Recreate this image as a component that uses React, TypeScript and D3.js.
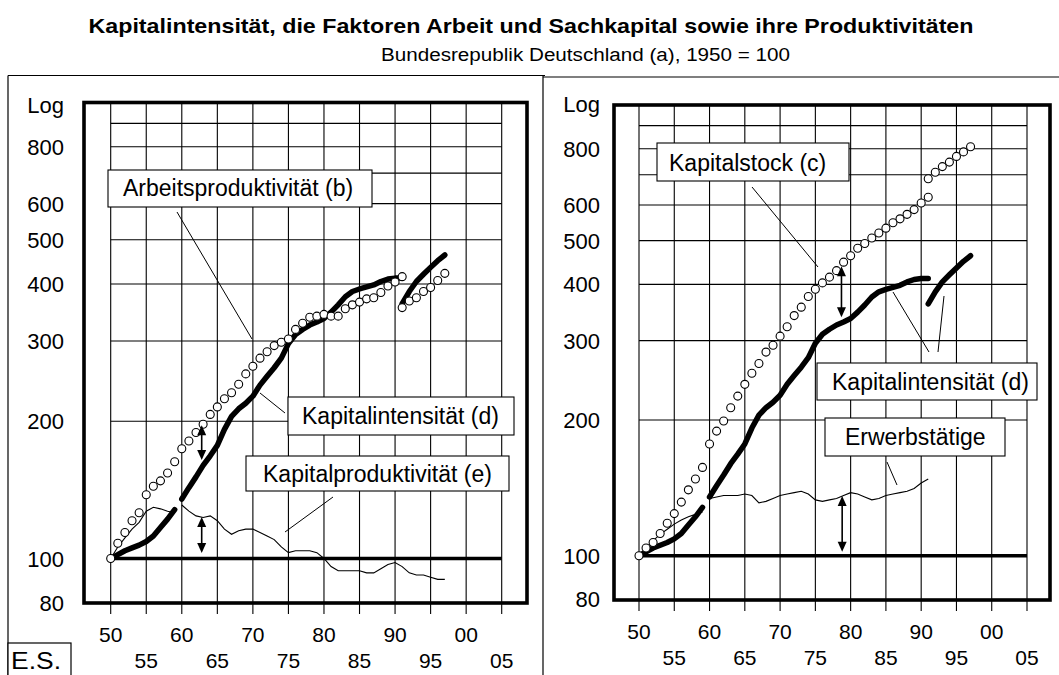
import React from "react";
import * as d3 from "d3";

const FONT = "'Liberation Sans', Arial, Helvetica, sans-serif";

// ---- axis data ----
const yearTicks = [1950, 1955, 1960, 1965, 1970, 1975, 1980, 1985, 1990, 1995, 2000, 2005];
const yearTickLabels = ["50", "55", "60", "65", "70", "75", "80", "85", "90", "95", "00", "05"];
const yTickValues = [80, 100, 200, 300, 400, 500, 600, 800];
const yGridValues = [200, 300, 400, 500, 600, 700, 800, 900];

// ---- series (1950 = 100) ----
// Arbeitsproduktivität (b): früheres Bundesgebiet 1950–1991, Deutschland 1991–1997
const arbeitsproduktivitaetWest = [
  100, 108, 114, 121, 126, 138, 144, 148, 154, 163,
  174, 181, 189, 197, 207, 215, 224, 231, 241, 254,
  264, 275, 284, 293, 298, 303, 318, 328, 338, 340,
  343, 340, 340, 353, 360, 365, 371, 373, 383, 396,
  404, 415,
];
const arbeitsproduktivitaetGesamt = [355, 367, 373, 385, 393, 407, 422];

// Kapitalintensität (d)
const kapitalintensitaet1 = [100, 102, 104, 105.5, 107, 109, 112, 117, 122, 128]; // 1950–1959
const kapitalintensitaet2 = [
  135, 143, 151, 160, 168, 177, 192, 205, 213, 219,
  227, 240, 251, 262, 275, 296, 310, 318, 325, 330,
  336, 347, 360, 375, 385, 390, 394, 398, 405, 410,
  412, 412,
]; // 1960–1991
const kapitalintensitaet3 = [362, 385, 405, 420, 435, 450, 463]; // 1991–1997

// Kapitalproduktivität (e)
const kapitalproduktivitaet1 = [100, 106, 111, 116, 120, 127, 129.5, 128.5, 127, 126]; // 1950–1959
const kapitalproduktivitaet2 = [
  131, 127, 124, 123, 124, 121, 116, 113, 115, 116,
  116, 114, 112, 110, 106, 103, 104, 104, 104, 103,
  100, 96, 94, 94, 94, 94, 93, 93, 95, 97,
  98, 96, 93, 92, 92, 91, 90, 90,
]; // 1960–1997

// Kapitalstock (c)
const kapitalstock1 = [100, 104, 107, 112, 118, 124, 131.5, 140, 148, 157]; // 1950–1959
const kapitalstock2 = [
  177, 189, 199, 213, 226, 240, 254, 267, 283, 293,
  307, 322, 341, 356, 376, 390, 403, 415, 429, 448,
  463, 481, 493, 507, 520, 533, 548, 559, 572, 586,
  606, 624,
]; // 1960–1991
const kapitalstock3 = [686, 709, 730, 747, 769, 787, 808]; // 1991–1997

// Erwerbstätige
const erwerbstaetige1 = [100, 104, 108, 111.5, 114.5, 117.5, 120, 122, 123.5, 125]; // 1950–1959
const erwerbstaetige2 = [
  134, 135, 136, 136, 136, 137, 136, 131, 132, 134,
  136, 137, 138, 139, 137, 133, 132, 133, 134, 136,
  138, 137, 135, 133, 134, 136, 137, 138, 139, 141,
  145, 148,
]; // 1960–1991

// Doppelpfeile (Jahr, von, bis)
const arrowsLeft = [
  { year: 1962.8, from: 196, to: 164.5 },
  { year: 1962.8, from: 123.3, to: 102.8 },
];
const arrowsRight = [
  { year: 1978.7, from: 439, to: 338 },
  { year: 1978.8, from: 135.7, to: 102 },
];

type Pt = [number, number];
const toPts = (start: number, values: number[]): Pt[] => values.map((v, i) => [start + i, v] as Pt);

type Series = { pts: Pt[]; kind: "thick" | "thin" | "circles" };
type Box = { text: string; x: number; y: number; w: number; h: number; tx: number; ty: number };
type Leader = [number, number, number, number];

type PanelProps = {
  xRange: [number, number];
  yRange: [number, number]; // y(100), y(1000)
  frame: { l: number; r: number; t: number; b: number };
  labelRight: number;
  logY: number;
  series: Series[];
  arrows: { year: number; from: number; to: number }[];
  boxes: Box[];
  leaders: Leader[];
};

function Panel(p: PanelProps) {
  const x = d3.scaleLinear().domain([1950, 2005]).range(p.xRange);
  const y = d3.scaleLog().domain([100, 1000]).range(p.yRange);
  const line = d3
    .line<Pt>()
    .x((d) => x(d[0]))
    .y((d) => y(d[1]));
  const { l, r, t, b } = p.frame;
  const x0 = x(1950);
  const x1 = x(2005);

  return (
    <g>
      {yGridValues.map((v) => (
        <line key={"h" + v} x1={x0} x2={x1} y1={y(v)} y2={y(v)} stroke="#000" strokeWidth={1.1} />
      ))}
      {yearTicks.map((yr) => (
        <line key={"v" + yr} x1={x(yr)} x2={x(yr)} y1={t} y2={b + 11} stroke="#000" strokeWidth={1.1} />
      ))}
      <line x1={x0} x2={x1} y1={y(100)} y2={y(100)} stroke="#000" strokeWidth={3.5} />

      {p.series
        .filter((s) => s.kind === "thin")
        .map((s, i) => (
          <path key={"thin" + i} d={line(s.pts) || ""} fill="none" stroke="#000" strokeWidth={1.1} />
        ))}
      {p.series
        .filter((s) => s.kind === "thick")
        .map((s, i) => (
          <path
            key={"thick" + i}
            d={line(s.pts) || ""}
            fill="none"
            stroke="#000"
            strokeWidth={5.5}
            strokeLinejoin="round"
            strokeLinecap="round"
          />
        ))}
      {p.series
        .filter((s) => s.kind === "circles")
        .map((s, i) => (
          <g key={"circ" + i}>
            {s.pts.map((d, j) => (
              <circle key={j} cx={x(d[0])} cy={y(d[1])} r={4} fill="#fff" stroke="#000" strokeWidth={1.1} />
            ))}
          </g>
        ))}

      {p.arrows.map((a, i) => {
        const ax = x(a.year);
        const ya = y(a.from);
        const yb = y(a.to);
        return (
          <g key={"arr" + i}>
            <line x1={ax} x2={ax} y1={ya + 6} y2={yb - 6} stroke="#000" strokeWidth={1.6} />
            <path d={`M${ax},${ya} L${ax - 4.5},${ya + 10} L${ax + 4.5},${ya + 10} Z`} fill="#000" />
            <path d={`M${ax},${yb} L${ax - 4.5},${yb - 10} L${ax + 4.5},${yb - 10} Z`} fill="#000" />
          </g>
        );
      })}

      {p.leaders.map((ld, i) => (
        <line key={"ld" + i} x1={ld[0]} y1={ld[1]} x2={ld[2]} y2={ld[3]} stroke="#000" strokeWidth={1} />
      ))}

      {p.boxes.map((bx, i) => (
        <g key={"box" + i}>
          <rect x={bx.x} y={bx.y} width={bx.w} height={bx.h} fill="#fff" stroke="#000" strokeWidth={1.1} />
          <text x={bx.tx} y={bx.ty} fontFamily={FONT} fontSize={23} fill="#000">
            {bx.text}
          </text>
        </g>
      ))}

      <rect x={l} y={t} width={r - l} height={b - t} fill="none" stroke="#000" strokeWidth={3.6} />

      <text x={p.labelRight} y={p.logY} textAnchor="end" fontFamily={FONT} fontSize={22} fill="#000">
        Log
      </text>
      {yTickValues.map((v) => (
        <text
          key={"yl" + v}
          x={p.labelRight}
          y={y(v) + 8}
          textAnchor="end"
          fontFamily={FONT}
          fontSize={22}
          fill="#000"
        >
          {v}
        </text>
      ))}
      {yearTicks.map((yr, i) => (
        <text
          key={"xl" + yr}
          x={x(yr)}
          y={i % 2 === 0 ? b + 39 : b + 65}
          textAnchor="middle"
          fontFamily={FONT}
          fontSize={21}
          fill="#000"
        >
          {yearTickLabels[i]}
        </text>
      ))}
    </g>
  );
}

export default function App() {
  const leftSeries: Series[] = [
    { pts: toPts(1950, kapitalproduktivitaet1), kind: "thin" },
    { pts: toPts(1960, kapitalproduktivitaet2), kind: "thin" },
    { pts: toPts(1950, kapitalintensitaet1), kind: "thick" },
    { pts: toPts(1960, kapitalintensitaet2), kind: "thick" },
    { pts: toPts(1991, kapitalintensitaet3), kind: "thick" },
    { pts: toPts(1950, arbeitsproduktivitaetWest), kind: "circles" },
    { pts: toPts(1991, arbeitsproduktivitaetGesamt), kind: "circles" },
  ];
  const rightSeries: Series[] = [
    { pts: toPts(1950, erwerbstaetige1), kind: "thin" },
    { pts: toPts(1960, erwerbstaetige2), kind: "thin" },
    { pts: toPts(1950, kapitalintensitaet1), kind: "thick" },
    { pts: toPts(1960, kapitalintensitaet2), kind: "thick" },
    { pts: toPts(1991, kapitalintensitaet3), kind: "thick" },
    { pts: toPts(1950, kapitalstock1), kind: "circles" },
    { pts: toPts(1960, kapitalstock2), kind: "circles" },
    { pts: toPts(1991, kapitalstock3), kind: "circles" },
  ];

  return (
    <svg
      width={1059}
      height={675}
      viewBox="0 0 1059 675"
      style={{ position: "absolute", left: 0, top: 0, background: "#fff" }}
    >
      <rect x={0} y={0} width={1059} height={675} fill="#fff" />
      <text
        x={531}
        y={33}
        textAnchor="middle"
        fontFamily={FONT}
        fontWeight="bold"
        fontSize={21}
        textLength={885}
        lengthAdjust="spacingAndGlyphs"
        fill="#000"
      >
        Kapitalintensität, die Faktoren Arbeit und Sachkapital sowie ihre Produktivitäten
      </text>
      <text
        x={381}
        y={61}
        fontFamily={FONT}
        fontSize={18}
        textLength={409}
        lengthAdjust="spacingAndGlyphs"
        fill="#000"
      >
        Bundesrepublik Deutschland (a),  1950 = 100
      </text>

      <line x1={8} x2={545} y1={75.5} y2={75.5} stroke="#000" strokeWidth={1.2} />
      <line x1={8} x2={8} y1={75.5} y2={680} stroke="#000" strokeWidth={1.2} />
      <line x1={543} x2={543} y1={75.5} y2={680} stroke="#000" strokeWidth={1.2} />
      <line x1={543} x2={1059} y1={77} y2={77} stroke="#000" strokeWidth={1.2} />

      <rect x={8} y={643} width={63} height={40} fill="#fff" stroke="#000" strokeWidth={1.2} />
      <text x={11} y={669} fontFamily={FONT} fontSize={23} textLength={50} lengthAdjust="spacingAndGlyphs" fill="#000">
        E.S.
      </text>

      <Panel
        xRange={[110.7, 501.7]}
        yRange={[558.5, 102.5]}
        frame={{ l: 84, r: 527, t: 102.5, b: 603 }}
        labelRight={64}
        logY={113}
        series={leftSeries}
        arrows={arrowsLeft}
        boxes={[
          { text: "Arbeitsproduktivität (b)", x: 108, y: 170, w: 264, h: 37, tx: 123, ty: 196 },
          { text: "Kapitalintensität (d)", x: 288, y: 397, w: 226, h: 38, tx: 302, ty: 424 },
          { text: "Kapitalproduktivität (e)", x: 246, y: 456, w: 263, h: 35, tx: 263, ty: 482 },
        ]}
        leaders={[
          [177, 212, 252, 339],
          [260, 393, 285, 413],
          [333, 497, 285, 532],
        ]}
      />
      <Panel
        xRange={[639, 1027]}
        yRange={[555.7, 105]}
        frame={{ l: 614, r: 1050, t: 105, b: 600 }}
        labelRight={600}
        logY={112}
        series={rightSeries}
        arrows={arrowsRight}
        boxes={[
          { text: "Kapitalstock (c)", x: 657, y: 143, w: 192, h: 38, tx: 669, ty: 171 },
          { text: "Kapitalintensität (d)", x: 817, y: 363, w: 220, h: 37, tx: 832, ty: 390 },
          { text: "Erwerbstätige", x: 825, y: 418, w: 180, h: 38, tx: 845, ty: 445 },
        ]}
        leaders={[
          [752, 187, 818, 267],
          [893, 292, 929, 352],
          [944, 296, 938, 352],
          [887, 462, 897, 485],
        ]}
      />
    </svg>
  );
}
